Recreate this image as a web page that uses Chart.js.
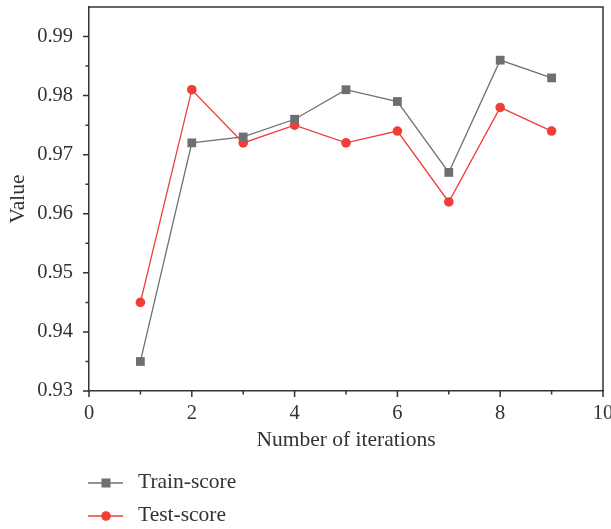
<!DOCTYPE html>
<html>
<head>
<meta charset="utf-8">
<script src="https://cdn.jsdelivr.net/npm/chart.js@4"></script>
<style>
  html, body { margin: 0; padding: 0; background: #fff; }
  #wrap { width: 611px; height: 529px; }
</style>
</head>
<body>
<div id="wrap"><canvas id="c" width="611" height="529"></canvas></div>
<script>
// Scores per iteration
const iterations = [1, 2, 3, 4, 5, 6, 7, 8, 9];
const trainScore = [0.935, 0.972, 0.973, 0.976, 0.981, 0.979, 0.967, 0.986, 0.983];
const testScore  = [0.945, 0.981, 0.972, 0.975, 0.972, 0.974, 0.962, 0.978, 0.974];

// Axis ticks
const xMajorTicks = [0, 2, 4, 6, 8, 10];
const xMinorTicks = [1, 3, 5, 7, 9];
const yMajorTicks = [0.93, 0.94, 0.95, 0.96, 0.97, 0.98, 0.99];
const yMinorTicks = [0.935, 0.945, 0.955, 0.965, 0.975, 0.985];

const FONT = "'Liberation Serif', 'DejaVu Serif', serif";
const INK = '#333333';
const GREY = '#6e6e73';
const RED = '#ee3e36';

const toXY = (ys) => iterations.map((x, i) => ({ x, y: ys[i] }));

// Tick marks, frame, axis titles and legend
const decor = {
  id: 'decor',
  afterDraw(chart) {
    const { ctx, chartArea: a, scales: { x, y } } = chart;
    ctx.save();
    ctx.strokeStyle = INK;
    ctx.lineWidth = 1.5;
    // top and right frame
    ctx.beginPath();
    ctx.moveTo(a.left, a.top); ctx.lineTo(a.right, a.top); ctx.lineTo(a.right, a.bottom);
    ctx.stroke();
    // x ticks (outward, below)
    ctx.beginPath();
    xMajorTicks.forEach(v => { const p = x.getPixelForValue(v); ctx.moveTo(p, a.bottom); ctx.lineTo(p, a.bottom + 6); });
    xMinorTicks.forEach(v => { const p = x.getPixelForValue(v); ctx.moveTo(p, a.bottom); ctx.lineTo(p, a.bottom + 3.5); });
    // y ticks (outward, left)
    yMajorTicks.forEach(v => { const p = y.getPixelForValue(v); ctx.moveTo(a.left, p); ctx.lineTo(a.left - 6, p); });
    yMinorTicks.forEach(v => { const p = y.getPixelForValue(v); ctx.moveTo(a.left, p); ctx.lineTo(a.left - 3.5, p); });
    ctx.stroke();

    // axis titles
    ctx.fillStyle = INK;
    ctx.font = '21.5px ' + FONT;
    ctx.textAlign = 'center';
    ctx.textBaseline = 'middle';
    ctx.fillText('Number of iterations', (a.left + a.right) / 2, 440);
    ctx.save();
    ctx.translate(18, (a.top + a.bottom) / 2);
    ctx.rotate(-Math.PI / 2);
    ctx.fillText('Value', 0, 0);
    ctx.restore();

    // legend
    const items = chart.data.datasets.map((ds, i) => ({ ds, yPos: 483 + i * 33 }));
    items.forEach(({ ds, yPos }) => {
      ctx.strokeStyle = ds.borderColor;
      ctx.lineWidth = 1.3;
      ctx.beginPath(); ctx.moveTo(88, yPos); ctx.lineTo(123, yPos); ctx.stroke();
      ctx.fillStyle = ds.pointBackgroundColor;
      if (ds.pointStyle === 'rect') {
        ctx.fillRect(101.5, yPos - 4.5, 9, 9);
      } else {
        ctx.beginPath(); ctx.arc(106, yPos, 4.8, 0, Math.PI * 2); ctx.fill();
      }
      ctx.fillStyle = INK;
      ctx.textAlign = 'left';
      ctx.textBaseline = 'middle';
      ctx.font = '21.5px ' + FONT;
      ctx.fillText(ds.label, 138, yPos - 1);
    });
    ctx.restore();
  }
};

new Chart(document.getElementById('c'), {
  type: 'line',
  data: {
    datasets: [
      {
        label: 'Train-score',
        data: toXY(trainScore),
        borderColor: '#707070',
        borderWidth: 1.3,
        pointStyle: 'rect',
        pointRadius: 6.2,
        pointBackgroundColor: GREY,
        pointBorderWidth: 0,
        tension: 0
      },
      {
        label: 'Test-score',
        data: toXY(testScore),
        borderColor: RED,
        borderWidth: 1.3,
        pointStyle: 'circle',
        pointRadius: 4.8,
        pointBackgroundColor: RED,
        pointBorderWidth: 0,
        tension: 0
      }
    ]
  },
  options: {
    responsive: false,
    animation: false,
    events: [],
    layout: { padding: { left: 0, right: 8, top: 7, bottom: 0 } },
    plugins: { legend: { display: false }, tooltip: { enabled: false } },
    scales: {
      x: {
        type: 'linear',
        min: 0, max: 10,
        afterBuildTicks: s => { s.ticks = xMajorTicks.map(v => ({ value: v })); },
        afterFit: s => { s.height = 138; s.paddingRight = 0; s.paddingLeft = 0; },
        grid: { display: false, drawTicks: false },
        border: { display: true, color: INK, width: 1.5 },
        ticks: { color: INK, font: { family: FONT, size: 20.5 }, padding: 10, maxRotation: 0 }
      },
      y: {
        type: 'linear',
        min: 0.93, max: 0.995,
        afterBuildTicks: s => { s.ticks = yMajorTicks.map(v => ({ value: v })); },
        afterFit: s => { s.width = 89; s.paddingTop = 0; s.paddingBottom = 0; },
        grid: { display: false, drawTicks: false },
        border: { display: true, color: INK, width: 1.5 },
        ticks: { color: INK, font: { family: FONT, size: 20.5 }, padding: 16, callback: v => v.toFixed(2) }
      }
    }
  },
  plugins: [decor]
});
</script>
</body>
</html>
